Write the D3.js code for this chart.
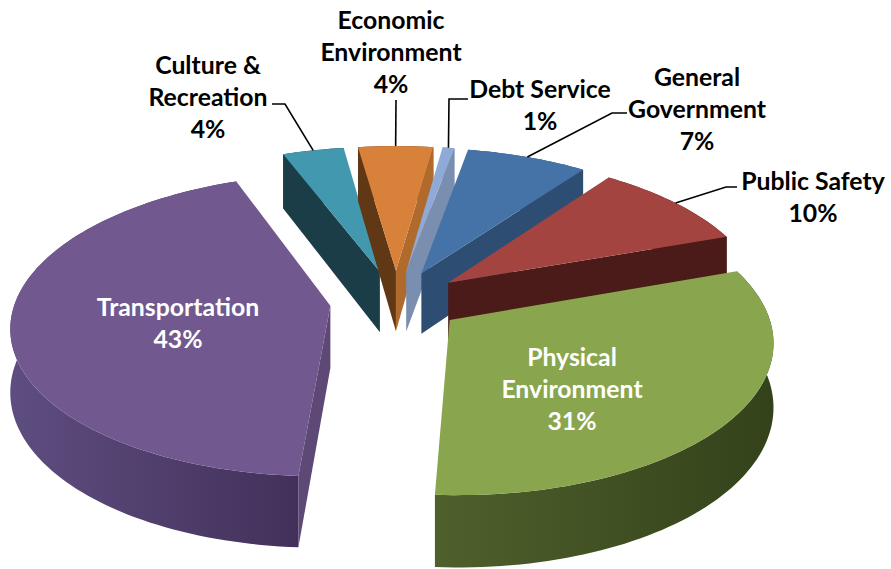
<!DOCTYPE html>
<html><head><meta charset="utf-8">
<script src="https://cdn.jsdelivr.net/npm/d3@7/dist/d3.min.js"></script>
<style>html,body{margin:0;padding:0;background:#fff}svg{display:block}text{font-family:Lato,"Open Sans",sans-serif;font-weight:700}</style>
</head><body><div id="c"></div>
<script>
// Data (shares; printed labels are the rounded percentages)
const categories = ["Physical Environment","Transportation","Culture & Recreation","Economic Environment","Debt Service","General Government","Public Safety"];
const values = [31.4,43.2,3.6,4.4,0.7,7.1,9.6];
// Style
const topColors   = ["#89a54e","#71588f","#4198af","#d8813b","#8faad6","#4572a7","#a44441"];
const startWall   = ["#3c4a20","#5d4876","#1b3d47","#603815","#7a8fb0","#2d4d73","#4a1b18"];
const endWall     = ["#3c4a20","#4a3763","#1b3d47","#b06a2c","#7a8fb0","#2d4d73","#4a1b18"];
const rimFrom     = ["#4f602c","#5e4d80","#1b3d47","#603815","#7a8fb0","#2d4d73","#4a1b18"];
const rimTo       = ["#33421a","#43305a","#1b3d47","#603815","#7a8fb0","#2d4d73","#4a1b18"];
const drawOrder   = ["Culture & Recreation","Economic Environment","Debt Service","General Government","Public Safety","Transportation","Physical Environment"];
// Labels
const labelLines = {
 "Physical Environment":["Physical","Environment","31%"],
 "Transportation":["Transportation","43%"],
 "Culture & Recreation":["Culture &","Recreation","4%"],
 "Economic Environment":["Economic","Environment","4%"],
 "Debt Service":["Debt Service","1%"],
 "General Government":["General","Government","7%"],
 "Public Safety":["Public Safety","10%"]
};
const labelAt = {
 "Physical Environment":[572,357,"#fff"],
 "Transportation":[178,307,"#fff"],
 "Culture & Recreation":[208,65,"#000"],
 "Economic Environment":[391,20,"#000"],
 "Debt Service":[540,89,"#000"],
 "General Government":[697,77,"#000"],
 "Public Safety":[813,181,"#000"]
};
const leaderVia = {
 "Culture & Recreation":[[285,104],[272,104]],
 "Economic Environment":[[396,100]],
 "Debt Service":[[449,99],[468,99]],
 "General Government":[[612,113],[627,113]],
 "Public Safety":[[726,187],[737,187]]
};

const W=891,H=569;
const cx=396,cy=301,Rx=315,Ry=147.7,persp=0.127,explode=0.21,depth=62,firstAngle=70.5;
const rad=d=>d*Math.PI/180;

const svg=d3.select("#c").append("svg").attr("width",W).attr("height",H);
const defs=svg.append("defs");
const pie=d3.pie().sort(null).value(d=>d).startAngle(rad(firstAngle)).endAngle(rad(firstAngle+360));
const arcs=pie(values);
const line=d3.line();

function proj(mid,a,r,z){
  const u=explode*Math.sin(mid)+r*Math.sin(a), v=explode*Math.cos(mid)+r*Math.cos(a);
  const s=1/(1+persp*v);
  return [cx+u*Rx*s, cy-v*Ry*s+z*depth*s];
}
const area=p=>d3.polygonArea(p);

drawOrder.forEach(name=>{
  const i=categories.indexOf(name), d=arcs[i];
  const mid=(d.startAngle+d.endAngle)/2;
  const n=Math.max(4,Math.ceil((d.endAngle-d.startAngle)/rad(1.5)));
  const angs=d3.range(n+1).map(k=>d.startAngle+(d.endAngle-d.startAngle)*k/n);
  const g=svg.append("g").attr("class","slice");
  const rimTop=angs.map(a=>proj(mid,a,1,0)), rimBot=angs.map(a=>proj(mid,a,1,1));
  const rim=rimTop.concat(rimBot.slice().reverse());
  const xs=d3.extent(rim,p=>p[0]);
  const gid="rim"+i;
  const lg=defs.append("linearGradient").attr("id",gid).attr("gradientUnits","userSpaceOnUse")
    .attr("x1",xs[0]).attr("x2",xs[1]).attr("y1",0).attr("y2",0);
  lg.append("stop").attr("offset",0).attr("stop-color",rimFrom[i]);
  lg.append("stop").attr("offset",1).attr("stop-color",rimTo[i]);
  g.append("path").attr("d",line(rim)+"Z").attr("fill",`url(#${gid})`);
  const A0=proj(mid,0,0,0),A1=proj(mid,0,0,1);
  const qS=[A0,rimTop[0],rimBot[0],A1];
  const qE=[A0,rimTop[n],rimBot[n],A1];
  if(area(qS)>0) g.append("path").attr("d",line(qS)+"Z").attr("fill",startWall[i]);
  if(area(qE)<0) g.append("path").attr("d",line(qE)+"Z").attr("fill",endWall[i]);
  g.append("path").attr("d",line([A0].concat(rimTop))+"Z").attr("fill",topColors[i]);
});

categories.forEach((name,i)=>{
  const via=leaderVia[name]; if(!via) return;
  const d=arcs[i], mid=(d.startAngle+d.endAngle)/2;
  const pts=[proj(mid,mid,1,0)].concat(via);
  svg.append("path").attr("d",line(pts)).attr("fill","none").attr("stroke","#000").attr("stroke-width",1.6);
});

categories.forEach(name=>{
  const [x,y,c]=labelAt[name];
  labelLines[name].forEach((t,k)=>{
    svg.append("text").attr("x",x).attr("y",y+k*32.3).attr("dy","0.35em")
      .attr("text-anchor","middle").attr("font-size",24.8).attr("fill",c).text(t);
  });
});
</script></body></html>
